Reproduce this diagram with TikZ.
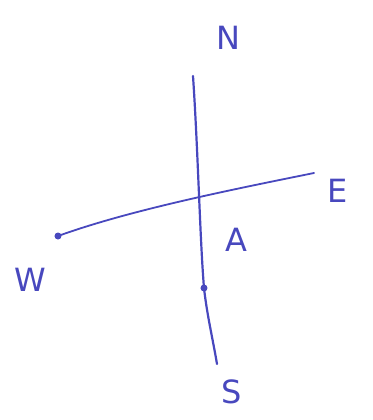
\documentclass[tikz,border=0pt]{standalone}
\usepackage{fontspec}
\setmainfont{DejaVu Sans}
\definecolor{ink}{RGB}{72,72,190}
\begin{document}
\begin{tikzpicture}[x=0.5pt,y=-0.5pt,
  pen/.style={draw=ink,line width=1.1pt,line cap=round},
  lbl/.style={text=ink,font=\fontsize{16}{18}\selectfont,inner sep=0pt},
  dotmark/.style={circle,fill=ink,inner sep=0pt,minimum size=3.5pt}]
\useasboundingbox (0,0) rectangle (372,420);
\coordinate (ntop) at (193,76);
\coordinate (sbot) at (217,364);
\coordinate (eend) at (314,173);
\node[dotmark] (w) at (58,236) {};
\node[dotmark] (p) at (204,288) {};
\draw[pen] (ntop) .. controls (198,150) and (200,240) .. (p.center) .. controls (207,315) and (213,340) .. (sbot);
\draw[pen,line width=0.9pt] (w.center) .. controls (130,210) and (230,190) .. (eend);
\node[lbl] (N) at (228,38) {N};
\node[lbl] (E) at (338,191) {E};
\node[lbl] (W) at (30,280) {W};
\node[lbl] (S) at (232,392) {S};
\node[lbl] (A) at (236,240) {A};
\end{tikzpicture}
\end{document}
